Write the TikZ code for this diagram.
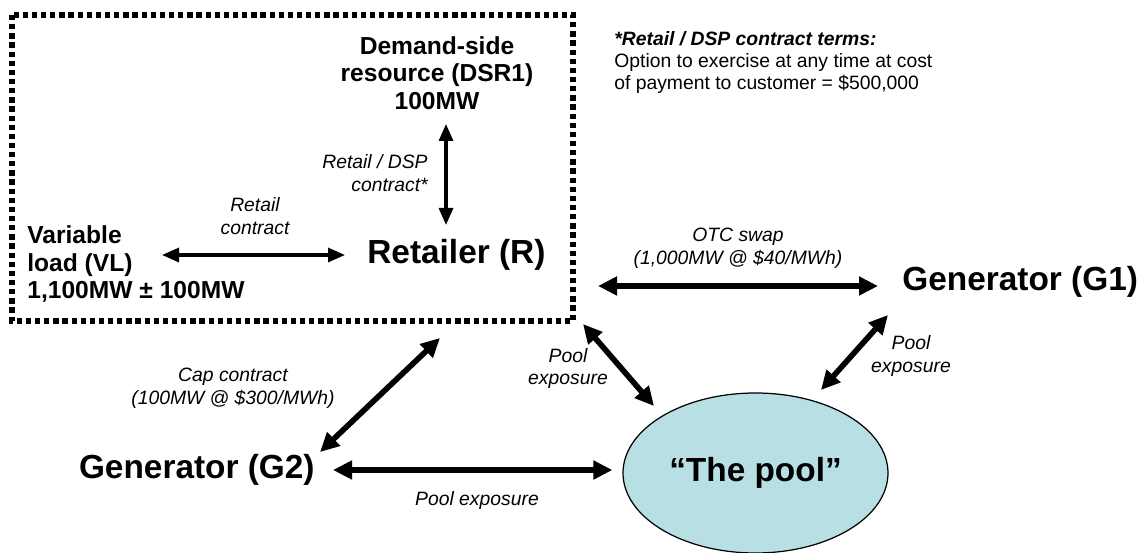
\documentclass[tikz,border=0pt]{standalone}
\usepackage{fontspec}
\setmainfont{Liberation Sans}
\usetikzlibrary{arrows.meta,shapes.geometric}

\definecolor{poolfill}{RGB}{183,223,228}

\begin{document}
\begin{tikzpicture}[x=1cm,y=1cm,
  thinarrow/.style={line width=1.8pt,{Triangle[length=0.34cm,width=0.28cm]}-{Triangle[length=0.34cm,width=0.28cm]}},
  thickarrow/.style={line width=3.2pt,{Triangle[length=0.38cm,width=0.36cm]}-{Triangle[length=0.38cm,width=0.36cm]}},
  party/.style={font=\fontsize{19}{22}\selectfont\bfseries,inner sep=0pt},
  member/.style={font=\fontsize{14}{15.6}\selectfont\bfseries,inner sep=0pt},
  deal/.style={font=\fontsize{11}{13}\selectfont\itshape,inner sep=0pt,align=center}]
\useasboundingbox (0,0) rectangle (22.86,-11.06);
\path[draw=black,line width=3pt,dash pattern=on 3pt off 2.2pt] (0.24,-0.30) rectangle (11.46,-6.42);
\node[member,align=center] (member-dsr) at (8.74,-1.46) {Demand-side\\resource (DSR1)\\100MW};
\node[member,align=left,anchor=west] (member-vl) at (0.54,-5.28) {Variable\\load (VL)\\1,100MW ± 100MW};
\node[party,anchor=west] (party-retailer) at (7.34,-5.10) {Retailer (R)};
\node[party,anchor=west] (party-g1) at (18.04,-5.64) {Generator (G1)};
\node[party,anchor=east] (party-g2) at (6.30,-9.40) {Generator (G2)};
\node[ellipse,draw=black,line width=0.7pt,fill=poolfill,minimum width=5.3cm,minimum height=3.2cm,inner sep=0pt,font=\fontsize{19}{22}\selectfont\bfseries] (pool) at (15.11,-9.46) {“The pool”};
\node[deal,anchor=west,align=left,font=\fontsize{11}{12.8}\selectfont] (note-terms) at (12.28,-1.25) {\textbf{\itshape *Retail / DSP contract terms:}\\Option to exercise at any time at cost\\of payment to customer = \$500,000};
\coordinate (dsr-end) at (8.92,-2.48);
\coordinate (retailer-end-dsr) at (8.92,-4.50);
\draw[thinarrow] (dsr-end) -- (retailer-end-dsr);
\node[deal,align=right,anchor=east] (deal-dsp) at (8.56,-3.46) {Retail / DSP\\contract*};
\coordinate (vl-end) at (3.24,-5.10);
\coordinate (retailer-end-vl) at (6.90,-5.10);
\draw[thinarrow] (vl-end) -- (retailer-end-vl);
\node[deal] (deal-retail) at (5.10,-4.33) {Retail\\contract};
\coordinate (retailer-end-g1) at (11.96,-5.72);
\coordinate (g1-end) at (17.56,-5.72);
\draw[thickarrow] (retailer-end-g1) -- (g1-end);
\node[deal] (deal-otc) at (14.76,-4.96) {OTC swap\\(1,000MW @ \$40/MWh)};
\coordinate (retailer-end-pool) at (11.66,-6.48);
\coordinate (pool-end-retailer) at (13.08,-8.12);
\draw[thickarrow] (retailer-end-pool) -- (pool-end-retailer);
\node[deal] (deal-pool-r) at (11.36,-7.37) {Pool\\exposure};
\coordinate (g1-end-pool) at (17.76,-6.30);
\coordinate (pool-end-g1) at (16.42,-7.80);
\draw[thickarrow] (g1-end-pool) -- (pool-end-g1);
\node[deal] (deal-pool-g1) at (18.22,-7.12) {Pool\\exposure};
\coordinate (retailer-end-g2) at (8.80,-6.76);
\coordinate (g2-end) at (6.40,-9.04);
\draw[thickarrow] (retailer-end-g2) -- (g2-end);
\node[deal] (deal-cap) at (4.66,-7.77) {Cap contract\\(100MW @ \$300/MWh)};
\draw[thickarrow,shorten <=0.36cm,shorten >=0.2cm] (party-g2.east) -- (party-g2.east -| pool.west);
\node[deal] (deal-pool-g2) at (9.54,-10.00) {Pool exposure};
\end{tikzpicture}
\end{document}
